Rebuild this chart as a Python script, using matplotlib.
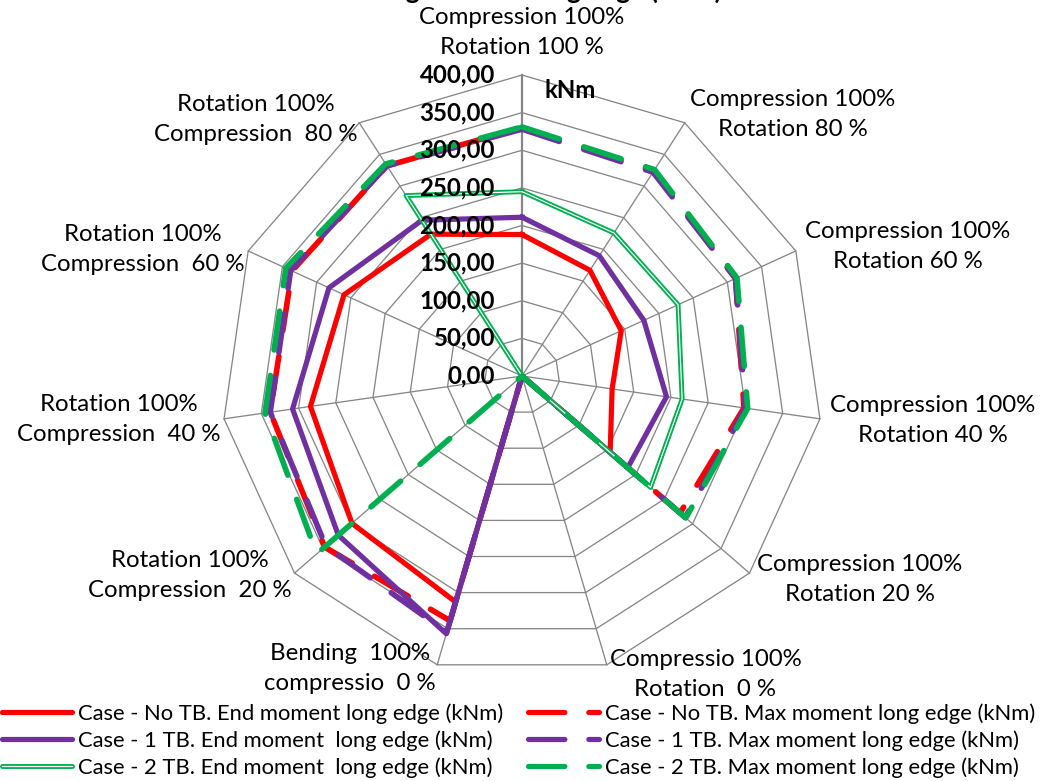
import numpy as np
import matplotlib
matplotlib.use("Agg")
import matplotlib.pyplot as plt
from matplotlib.lines import Line2D

W, H, DPI = 1047, 781, 100

# ---- data (kNm) -------------------------------------------------------------
categories = [
    "Compression 100%\nRotation 100 %",
    "Compression 100%\nRotation 80 %",
    "Compression 100%\nRotation 60 %",
    "Compression 100%\nRotation 40 %",
    "Compression 100%\nRotation 20 %",
    "Compressio 100%\nRotation  0 %",
    "Bending  100%\ncompressio  0 %",
    "Rotation 100%\nCompression  20 %",
    "Rotation 100%\nCompression  40 %",
    "Rotation 100%\nCompression  60 %",
    "Rotation 100%\nCompression  80 %",
]
no_tb_end = [188, 167, 145, 121, 155, 0, 313, 299, 284, 260, 224]
one_tb_end = [211, 190, 178, 194, 186, 0, 357, 323, 308, 282, 246]
two_tb_end = [245, 226, 228, 215, 226, 0, 0, 0, 0, 0, 285]
no_tb_max = [330, 324, 312, 298, 278, 0, 339, 347, 338, 336, 332]
one_tb_max = [328, 322, 312, 300, 287, 0, 355, 345, 338, 338, 332]
two_tb_max = [331, 326, 314, 303, 288, 0, 0, 361, 345, 345, 335]
labels_end = [
    "Case - No TB. End moment long edge (kNm)",
    "Case - 1 TB. End moment  long edge (kNm)",
    "Case - 2 TB. End moment  long edge (kNm)",
]
labels_max = [
    "Case - No TB. Max moment long edge (kNm)",
    "Case - 1 TB. Max moment long edge (kNm)",
    "Case - 2 TB. Max moment long edge (kNm)",
]
r_ticks = [0, 50, 100, 150, 200, 250, 300, 350, 400]

RED, PURPLE, GREEN = "#FF0000", "#7030A0", "#00B050"
GRID = "#868686"
FS = 17.3
FS_LEG = 15.8

plt.rcParams["font.family"] = ["Lato", "DejaVu Sans"]

px = 72.0 / DPI  # one pixel in points
LW_SOLID = 5.2 * px
LW_DASH = 5.6 * px
DASH = (0, (7, 4.6))

n = len(categories)
theta = np.arange(n) * 2 * np.pi / n
theta_c = np.append(theta, theta[0])


def closed(vals):
    return np.append(vals, vals[0])


fig = plt.figure(figsize=(W / DPI, H / DPI), dpi=DPI)
cx, cy, R = 522, 376, 301
ax = fig.add_axes([(cx - R) / W, (H - cy - R) / H, 2 * R / W, 2 * R / H],
                  projection="polar")
ax.set_theta_zero_location("N")
ax.set_theta_direction(-1)
ax.set_ylim(0, 400)
ax.grid(False)
ax.set_xticks([])
ax.set_yticks([])
ax.spines["polar"].set_visible(False)
ax.patch.set_visible(False)

# polygon grid
for r in r_ticks[1:]:
    ax.plot(theta_c, [r] * (n + 1), color=GRID, lw=1.3 * px, zorder=1, clip_on=False)
for i, t in enumerate(theta):
    ax.plot([t, t], [0, 400], color=GRID, lw=(2.2 if i == 0 else 1.3) * px,
            zorder=1, clip_on=False)

# series, in Excel order (row-wise legend): end/max per case
common = dict(clip_on=False, zorder=3)
dash_kw = dict(lw=LW_DASH, linestyle=DASH, dash_capstyle="round",
               dash_joinstyle="round")
ax.plot(theta_c, closed(no_tb_end), color=RED, lw=LW_SOLID, **common)
ax.plot(theta_c, closed(no_tb_max), color=RED, **dash_kw, **common)
ax.plot(theta_c, closed(one_tb_end), color=PURPLE, lw=LW_SOLID, **common)
ax.plot(theta_c, closed(one_tb_max), color=PURPLE, **dash_kw, **common)
ax.plot(theta_c, closed(two_tb_end), color=GREEN, lw=LW_SOLID * 0.95, **common)
ax.plot(theta_c, closed(two_tb_end), color="white", lw=1.2 * px, **common)
ax.plot(theta_c, closed(two_tb_max), color=GREEN, **dash_kw, **common)

# radial value labels
for v in r_ticks:
    ax.annotate(f"{v:.2f}".replace(".", ","), xy=(0, v), xytext=(-27, 0),
                textcoords="offset pixels", ha="right", va="center",
                fontsize=FS, fontweight="bold", zorder=4)
ax.annotate("kNm", xy=(0, 400), xytext=(48, -15), textcoords="offset pixels",
            ha="center", va="center", fontsize=FS, fontweight="bold", zorder=4)

# category labels
for t, lab in zip(theta, categories):
    s, c = np.sin(t), np.cos(t)
    if abs(s) < 1e-6:
        ha, va, off = "center", "bottom", 17
    elif s > 0:
        ha, va, off = "left", "center", 10
    else:
        ha, va, off = "right", "center", 4
    ax.annotate(lab, xy=(t, 400), xytext=(off * s, off * c), textcoords="offset pixels",
                ha=ha, va=va, multialignment="center", fontsize=FS, linespacing=1.55,
                annotation_clip=False)

# title (cropped at the top edge in the reference)
fig.text(cx / W, 1 + 1 / H, "Bending moment long edge (kNm)", ha="center",
         va="baseline", fontsize=19, fontweight="bold")

# legend
h_end = [Line2D([], [], color=RED, lw=LW_SOLID, solid_capstyle="round"),
         Line2D([], [], color=PURPLE, lw=LW_SOLID, solid_capstyle="round"),
         (Line2D([], [], color=GREEN, lw=LW_SOLID * 0.95, solid_capstyle="round"),
          Line2D([], [], color="white", lw=1.2 * px))]
h_max = [Line2D([], [], color=col, lw=LW_SOLID, linestyle=DASH, dash_capstyle="round")
         for col in (RED, PURPLE, GREEN)]
fig.legend(h_end + h_max, labels_end + labels_max, ncol=2, loc="upper left",
           bbox_to_anchor=(2 / W, 1 - 703 / H), frameon=False, fontsize=FS_LEG,
           borderpad=0, borderaxespad=0, handlelength=3.2, handletextpad=0.27,
           columnspacing=1.14, labelspacing=0.29)

fig.savefig("out.png", dpi=DPI, facecolor="white")
